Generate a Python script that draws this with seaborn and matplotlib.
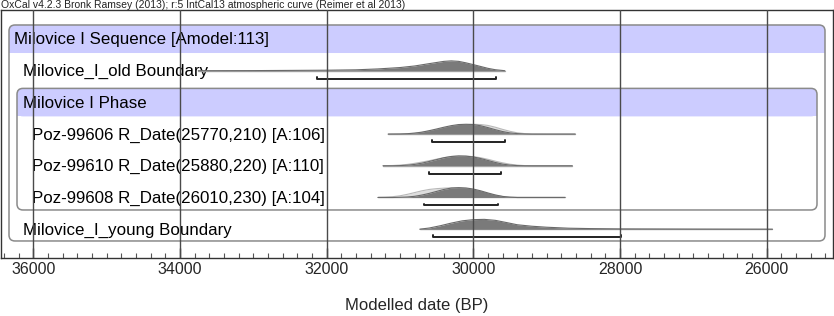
import matplotlib
matplotlib.use("Agg")
import matplotlib.pyplot as plt
import matplotlib.transforms as mtransforms
from matplotlib.patches import FancyBboxPatch, Rectangle
from matplotlib.ticker import MultipleLocator
import seaborn as sns

title = "OxCal v4.2.3 Bronk Ramsey (2013); r:5 IntCal13 atmospheric curve (Reimer et al 2013)"

row_labels = ["Milovice I Sequence [Amodel:113]",
              "Milovice_I_old Boundary",
              "Milovice I Phase",
              "Poz-99606 R_Date(25770,210) [A:106]",
              "Poz-99610 R_Date(25880,220) [A:110]",
              "Poz-99608 R_Date(26010,230) [A:104]",
              "Milovice_I_young Boundary"]
row_indent = [0, 1, 1, 2, 2, 2, 1]

# old boundary (modelled only)
old_years = [33750, 33000, 32500, 32000, 31600, 31300, 31000, 30800, 30600,
             30400, 30300, 30200, 30100, 30000, 29900, 29800, 29700, 29570]
old_dens = [0.0, 0.01, 0.03, 0.05, 0.09, 0.18, 0.32, 0.48, 0.72,
            0.95, 1.0, 0.95, 0.8, 0.62, 0.43, 0.24, 0.1, 0.0]

# young boundary (modelled only)
young_years = [30730, 30600, 30450, 30300, 30150, 30000, 29850, 29700, 29550,
               29400, 29200, 29000, 28700, 28400, 28000, 27500, 27000, 26500, 25920]
young_dens = [0.0, 0.12, 0.35, 0.62, 0.85, 0.97, 1.0, 0.9, 0.68,
              0.45, 0.3, 0.2, 0.1, 0.06, 0.03, 0.02, 0.01, 0.005, 0.0]

# Poz-99606
r1_years = [31160, 31000, 30900, 30800, 30700, 30600, 30500, 30400, 30300, 30200, 30100,
            30000, 29900, 29800, 29700, 29600, 29500, 29400, 29300, 29200, 29000, 28610]
r1_mod = [0.0, 0.01, 0.04, 0.1, 0.2, 0.35, 0.52, 0.7, 0.86, 0.97, 1.0,
          0.97, 0.85, 0.66, 0.45, 0.26, 0.12, 0.05, 0.01, 0.0, 0.0, 0.0]
r1_unmod = [0.0, 0.01, 0.03, 0.08, 0.17, 0.3, 0.45, 0.62, 0.78, 0.9, 0.97,
            1.0, 0.97, 0.88, 0.7, 0.48, 0.28, 0.13, 0.05, 0.01, 0.0, 0.0]

# Poz-99610
r2_years = [31230, 31100, 31000, 30900, 30800, 30700, 30600, 30500, 30400, 30300, 30200,
            30100, 30000, 29900, 29800, 29700, 29600, 29500, 29400, 29300, 29200, 28650]
r2_mod = [0.0, 0.0, 0.02, 0.06, 0.14, 0.27, 0.44, 0.63, 0.82, 0.95, 1.0,
          0.98, 0.9, 0.74, 0.54, 0.34, 0.17, 0.07, 0.02, 0.0, 0.0, 0.0]
r2_unmod = [0.01, 0.03, 0.07, 0.14, 0.25, 0.38, 0.52, 0.68, 0.83, 0.94, 1.0,
            0.99, 0.93, 0.82, 0.66, 0.47, 0.3, 0.16, 0.07, 0.02, 0.0, 0.0]

# Poz-99608
r3_years = [31300, 31200, 31100, 31000, 30900, 30800, 30700, 30600, 30500, 30400, 30300,
            30200, 30100, 30000, 29900, 29800, 29700, 29600, 29500, 29400, 29200, 28750]
r3_mod = [0.0, 0.0, 0.0, 0.02, 0.05, 0.12, 0.25, 0.42, 0.62, 0.82, 0.96,
          1.0, 0.97, 0.86, 0.68, 0.46, 0.26, 0.11, 0.03, 0.0, 0.0, 0.0]
r3_unmod = [0.01, 0.03, 0.08, 0.17, 0.32, 0.5, 0.68, 0.82, 0.9, 0.95, 0.98,
            0.97, 0.9, 0.78, 0.6, 0.4, 0.22, 0.1, 0.03, 0.0, 0.0, 0.0]

# 95.4% ranges
range_start = [None, 32130, None, 30560, 30600, 30670, 30550]
range_end = [None, 29690, None, 29570, 29620, 29660, 27990]

major_years = [36000, 34000, 32000, 30000, 28000, 26000]

sns.set_theme(style="white")
plt.rcParams['font.family'] = ['Liberation Sans', 'DejaVu Sans']

W, H = 834, 316
fig = plt.figure(figsize=(W / 100, H / 100), dpi=100)
ax = fig.add_axes([1 / W, 58 / H, 832 / W, 248 / H])
ax.set_xlim(36440, 25095)
ax.set_ylim(6.909, -0.915)

band_col = '#ccccff'
box_col = '#8a8a8a'
blend = mtransforms.blended_transform_factory(ax.transAxes, ax.transData)
aspect = 832 / 31.7
rnd = 6 / 832


def group_box(x0, x1, top_row, bottom):
    top = top_row - 0.442
    band = FancyBboxPatch((x0, top), x1 - x0, 0.884, boxstyle=f"round,pad=0,rounding_size={rnd}",
                          mutation_aspect=aspect, transform=blend, fc=band_col, ec='none', zorder=1)
    ax.add_patch(band)
    ax.add_patch(Rectangle((x0, top + 0.44), x1 - x0, 0.444, transform=blend,
                           fc=band_col, ec='none', zorder=1))
    edge = FancyBboxPatch((x0, top), x1 - x0, bottom - top, boxstyle=f"round,pad=0,rounding_size={rnd}",
                          mutation_aspect=aspect, transform=blend, fc='none', ec=box_col, lw=1.1, zorder=2)
    ax.add_patch(edge)


group_box(8 / 832, 824 / 832, 0, 6.372)
group_box(16 / 832, 816 / 832, 2, 5.394)

# labels
for i, lab in enumerate(row_labels):
    ax.text((13 + 9 * row_indent[i]) / 832, i + 0.03, lab, transform=blend, fontsize=12.2,
            va='center', ha='left', color='black', zorder=3)

hscale = 0.31


def dist(row, years, dens, fc, ec, z):
    ytop = [row - hscale * d for d in dens]
    ax.fill_between(years, [row] * len(years), ytop, color=fc, lw=0, zorder=z)
    sns.lineplot(x=years, y=ytop, ax=ax, color=ec, lw=0.8, zorder=z, sort=False, estimator=None)


def baseline(row, years):
    ax.plot([years[0], years[-1]], [row, row], color='#a8a8a8', lw=1.0, zorder=3)


baseline(1, old_years)
dist(1, old_years, old_dens, '#7a7a7a', '#6a6a6a', 4)
for row, yrs, um, md in [(3, r1_years, r1_unmod, r1_mod),
                         (4, r2_years, r2_unmod, r2_mod),
                         (5, r3_years, r3_unmod, r3_mod)]:
    baseline(row, yrs)
    dist(row, yrs, um, '#dedede', '#b8b8b8', 4)
    dist(row, yrs, md, '#7a7a7a', '#6a6a6a', 5)
baseline(6, young_years)
dist(6, young_years, young_dens, '#7a7a7a', '#6a6a6a', 4)

# ranges
for i in range(len(row_labels)):
    if range_start[i] is None:
        continue
    y = i + 0.25
    ax.plot([range_start[i], range_start[i], range_end[i], range_end[i]],
            [y - 0.06, y, y, y - 0.06], color='#222222', lw=1.4, zorder=6)

# vertical grid lines on top
for yr in major_years:
    ax.axvline(yr, color='#4a4a4a', lw=1.0, zorder=7)

ax.xaxis.set_major_locator(MultipleLocator(2000))
ax.xaxis.set_minor_locator(MultipleLocator(200))
ax.set_yticks([])
ax.tick_params(axis='x', which='major', direction='in', length=7.5, width=1.0,
               color='#333333', labelsize=11.5, pad=3, bottom=True, top=False)
ax.tick_params(axis='x', which='minor', direction='in', length=3.5, width=0.8,
               color='#555555', bottom=True, top=False)
for s in ax.spines.values():
    s.set_color('#333333')
    s.set_linewidth(1.0)
ax.set_xlabel("Modelled date (BP)", fontsize=12, labelpad=15)

fig.text(1 / W, 1 - 0.5 / H, title, fontsize=7.5, va='top', ha='left', color='#222222')

fig.savefig("out.png", dpi=100)
